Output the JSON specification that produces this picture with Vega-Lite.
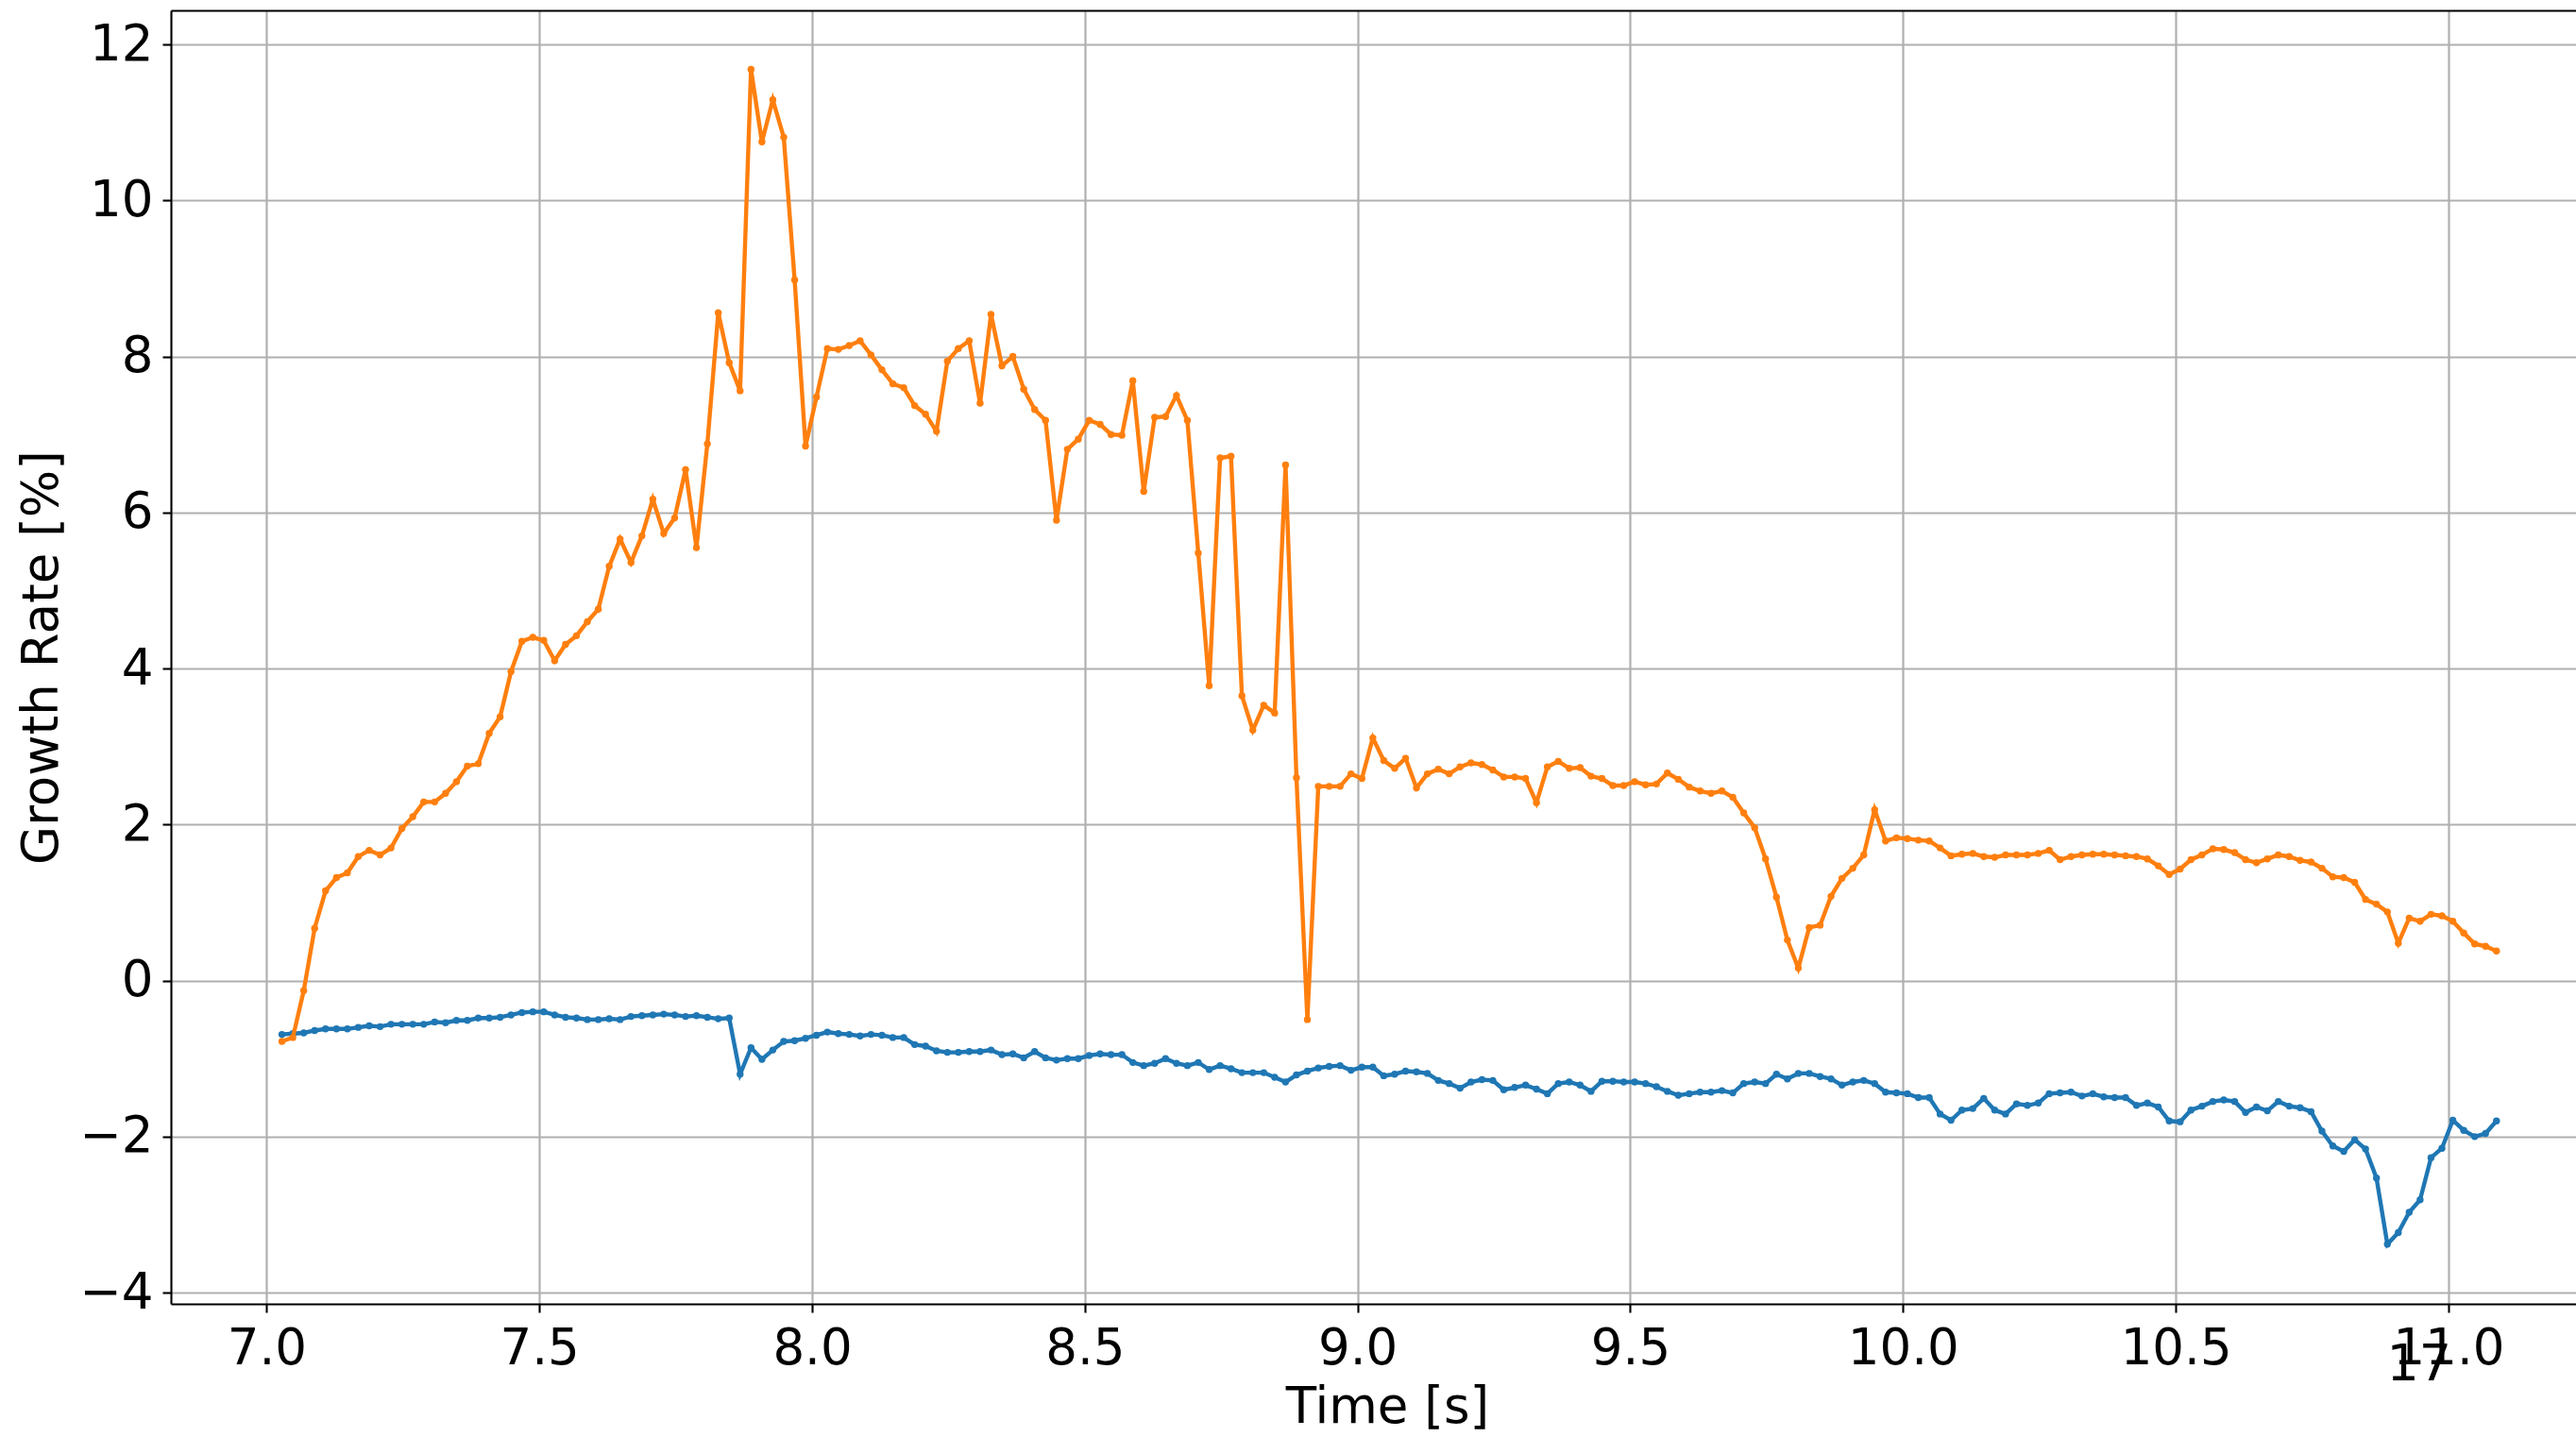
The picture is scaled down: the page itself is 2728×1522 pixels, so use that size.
{
  "$schema": "https://vega.github.io/schema/vega-lite/v6.json",
  "autosize": "none",
  "width": 2547,
  "height": 1370,
  "padding": {"left": 181, "top": 11, "right": 0, "bottom": 141},
  "background": "white",
  "datasets": {
    "growth": [
      {"t":7.028,"blue":-0.69,"orange":-0.78},{"t":7.048,"blue":-0.68,"orange":-0.73},{"t":7.068,"blue":-0.67,"orange":-0.13},{"t":7.088,"blue":-0.64,"orange":0.67},
      {"t":7.108,"blue":-0.62,"orange":1.15},{"t":7.128,"blue":-0.62,"orange":1.32},{"t":7.148,"blue":-0.62,"orange":1.38},{"t":7.168,"blue":-0.60,"orange":1.59},
      {"t":7.188,"blue":-0.58,"orange":1.67},{"t":7.208,"blue":-0.59,"orange":1.61},{"t":7.228,"blue":-0.56,"orange":1.70},{"t":7.248,"blue":-0.56,"orange":1.95},
      {"t":7.268,"blue":-0.56,"orange":2.10},{"t":7.288,"blue":-0.56,"orange":2.29},{"t":7.308,"blue":-0.53,"orange":2.29},{"t":7.328,"blue":-0.54,"orange":2.40},
      {"t":7.348,"blue":-0.51,"orange":2.55},{"t":7.368,"blue":-0.51,"orange":2.75},{"t":7.388,"blue":-0.48,"orange":2.78},{"t":7.408,"blue":-0.48,"orange":3.17},
      {"t":7.428,"blue":-0.47,"orange":3.38},{"t":7.448,"blue":-0.44,"orange":3.96},{"t":7.468,"blue":-0.41,"orange":4.35},{"t":7.488,"blue":-0.40,"orange":4.40},
      {"t":7.508,"blue":-0.40,"orange":4.36},{"t":7.528,"blue":-0.44,"orange":4.10},{"t":7.548,"blue":-0.47,"orange":4.31},{"t":7.568,"blue":-0.48,"orange":4.42},
      {"t":7.588,"blue":-0.50,"orange":4.60},{"t":7.608,"blue":-0.50,"orange":4.76},{"t":7.628,"blue":-0.49,"orange":5.31},{"t":7.648,"blue":-0.50,"orange":5.66},
      {"t":7.668,"blue":-0.46,"orange":5.36},{"t":7.688,"blue":-0.45,"orange":5.70},{"t":7.708,"blue":-0.44,"orange":6.17},{"t":7.728,"blue":-0.43,"orange":5.73},
      {"t":7.748,"blue":-0.44,"orange":5.93},{"t":7.768,"blue":-0.46,"orange":6.55},{"t":7.788,"blue":-0.45,"orange":5.55},{"t":7.808,"blue":-0.47,"orange":6.88},
      {"t":7.828,"blue":-0.49,"orange":8.56},{"t":7.848,"blue":-0.48,"orange":7.92},{"t":7.868,"blue":-1.20,"orange":7.56},{"t":7.888,"blue":-0.86,"orange":11.68},
      {"t":7.908,"blue":-1.01,"orange":10.75},{"t":7.928,"blue":-0.89,"orange":11.29},{"t":7.948,"blue":-0.78,"orange":10.81},{"t":7.968,"blue":-0.77,"orange":8.98},
      {"t":7.988,"blue":-0.74,"orange":6.85},{"t":8.008,"blue":-0.70,"orange":7.48},{"t":8.028,"blue":-0.66,"orange":8.10},{"t":8.048,"blue":-0.68,"orange":8.09},
      {"t":8.068,"blue":-0.69,"orange":8.14},{"t":8.088,"blue":-0.71,"orange":8.20},{"t":8.108,"blue":-0.69,"orange":8.02},{"t":8.128,"blue":-0.70,"orange":7.83},
      {"t":8.148,"blue":-0.73,"orange":7.65},{"t":8.168,"blue":-0.73,"orange":7.60},{"t":8.188,"blue":-0.82,"orange":7.37},{"t":8.208,"blue":-0.84,"orange":7.26},
      {"t":8.228,"blue":-0.90,"orange":7.04},{"t":8.248,"blue":-0.92,"orange":7.94},{"t":8.268,"blue":-0.92,"orange":8.10},{"t":8.288,"blue":-0.91,"orange":8.20},
      {"t":8.308,"blue":-0.91,"orange":7.40},{"t":8.328,"blue":-0.89,"orange":8.54},{"t":8.348,"blue":-0.95,"orange":7.88},{"t":8.368,"blue":-0.94,"orange":8.00},
      {"t":8.388,"blue":-0.99,"orange":7.58},{"t":8.408,"blue":-0.91,"orange":7.32},{"t":8.428,"blue":-0.99,"orange":7.18},{"t":8.448,"blue":-1.02,"orange":5.90},
      {"t":8.468,"blue":-1.00,"orange":6.81},{"t":8.488,"blue":-1.00,"orange":6.94},{"t":8.508,"blue":-0.96,"orange":7.18},{"t":8.528,"blue":-0.94,"orange":7.13},
      {"t":8.548,"blue":-0.95,"orange":7.00},{"t":8.568,"blue":-0.95,"orange":6.99},{"t":8.588,"blue":-1.05,"orange":7.69},{"t":8.608,"blue":-1.09,"orange":6.27},
      {"t":8.628,"blue":-1.06,"orange":7.22},{"t":8.648,"blue":-1.00,"orange":7.23},{"t":8.668,"blue":-1.06,"orange":7.50},{"t":8.688,"blue":-1.09,"orange":7.18},
      {"t":8.708,"blue":-1.05,"orange":5.48},{"t":8.728,"blue":-1.14,"orange":3.78},{"t":8.748,"blue":-1.09,"orange":6.70},{"t":8.768,"blue":-1.13,"orange":6.72},
      {"t":8.788,"blue":-1.18,"orange":3.65},{"t":8.808,"blue":-1.18,"orange":3.21},{"t":8.828,"blue":-1.18,"orange":3.53},{"t":8.848,"blue":-1.24,"orange":3.43},
      {"t":8.868,"blue":-1.30,"orange":6.61},{"t":8.888,"blue":-1.21,"orange":2.60},{"t":8.908,"blue":-1.16,"orange":-0.50},{"t":8.928,"blue":-1.12,"orange":2.49},
      {"t":8.948,"blue":-1.10,"orange":2.49},{"t":8.968,"blue":-1.09,"orange":2.49},{"t":8.988,"blue":-1.15,"orange":2.65},{"t":9.008,"blue":-1.11,"orange":2.59},
      {"t":9.028,"blue":-1.11,"orange":3.11},{"t":9.048,"blue":-1.22,"orange":2.82},{"t":9.068,"blue":-1.20,"orange":2.72},{"t":9.088,"blue":-1.16,"orange":2.85},
      {"t":9.108,"blue":-1.17,"orange":2.47},{"t":9.128,"blue":-1.19,"orange":2.65},{"t":9.148,"blue":-1.28,"orange":2.71},{"t":9.168,"blue":-1.32,"orange":2.65},
      {"t":9.188,"blue":-1.38,"orange":2.74},{"t":9.208,"blue":-1.30,"orange":2.79},{"t":9.228,"blue":-1.27,"orange":2.77},{"t":9.248,"blue":-1.28,"orange":2.70},
      {"t":9.268,"blue":-1.40,"orange":2.61},{"t":9.288,"blue":-1.37,"orange":2.61},{"t":9.308,"blue":-1.34,"orange":2.59},{"t":9.328,"blue":-1.39,"orange":2.28},
      {"t":9.348,"blue":-1.45,"orange":2.74},{"t":9.368,"blue":-1.32,"orange":2.81},{"t":9.388,"blue":-1.30,"orange":2.72},{"t":9.408,"blue":-1.34,"orange":2.73},
      {"t":9.428,"blue":-1.42,"orange":2.62},{"t":9.448,"blue":-1.29,"orange":2.59},{"t":9.468,"blue":-1.29,"orange":2.50},{"t":9.488,"blue":-1.30,"orange":2.50},
      {"t":9.508,"blue":-1.30,"orange":2.55},{"t":9.528,"blue":-1.32,"orange":2.51},{"t":9.548,"blue":-1.36,"orange":2.52},{"t":9.568,"blue":-1.42,"orange":2.66},
      {"t":9.588,"blue":-1.47,"orange":2.58},{"t":9.608,"blue":-1.45,"orange":2.48},{"t":9.628,"blue":-1.43,"orange":2.43},{"t":9.648,"blue":-1.43,"orange":2.40},
      {"t":9.668,"blue":-1.41,"orange":2.43},{"t":9.688,"blue":-1.44,"orange":2.35},{"t":9.708,"blue":-1.32,"orange":2.15},{"t":9.728,"blue":-1.30,"orange":1.96},
      {"t":9.748,"blue":-1.32,"orange":1.56},{"t":9.768,"blue":-1.20,"orange":1.07},{"t":9.788,"blue":-1.26,"orange":0.52},{"t":9.808,"blue":-1.19,"orange":0.16},
      {"t":9.828,"blue":-1.19,"orange":0.68},{"t":9.848,"blue":-1.23,"orange":0.71},{"t":9.868,"blue":-1.26,"orange":1.08},{"t":9.888,"blue":-1.34,"orange":1.31},
      {"t":9.908,"blue":-1.30,"orange":1.44},{"t":9.928,"blue":-1.28,"orange":1.61},{"t":9.948,"blue":-1.32,"orange":2.19},{"t":9.968,"blue":-1.43,"orange":1.79},
      {"t":9.988,"blue":-1.44,"orange":1.83},{"t":10.008,"blue":-1.45,"orange":1.82},{"t":10.028,"blue":-1.50,"orange":1.80},{"t":10.048,"blue":-1.50,"orange":1.79},
      {"t":10.068,"blue":-1.71,"orange":1.70},{"t":10.088,"blue":-1.79,"orange":1.60},{"t":10.108,"blue":-1.66,"orange":1.62},{"t":10.128,"blue":-1.64,"orange":1.63},
      {"t":10.148,"blue":-1.51,"orange":1.59},{"t":10.168,"blue":-1.66,"orange":1.58},{"t":10.188,"blue":-1.71,"orange":1.61},{"t":10.208,"blue":-1.58,"orange":1.61},
      {"t":10.228,"blue":-1.60,"orange":1.61},{"t":10.248,"blue":-1.57,"orange":1.63},{"t":10.268,"blue":-1.45,"orange":1.67},{"t":10.288,"blue":-1.44,"orange":1.55},
      {"t":10.308,"blue":-1.43,"orange":1.59},{"t":10.328,"blue":-1.48,"orange":1.61},{"t":10.348,"blue":-1.45,"orange":1.62},{"t":10.368,"blue":-1.49,"orange":1.62},
      {"t":10.388,"blue":-1.50,"orange":1.61},{"t":10.408,"blue":-1.50,"orange":1.60},{"t":10.428,"blue":-1.60,"orange":1.59},{"t":10.448,"blue":-1.57,"orange":1.56},
      {"t":10.468,"blue":-1.62,"orange":1.47},{"t":10.488,"blue":-1.80,"orange":1.36},{"t":10.508,"blue":-1.81,"orange":1.43},{"t":10.528,"blue":-1.66,"orange":1.55},
      {"t":10.548,"blue":-1.61,"orange":1.61},{"t":10.568,"blue":-1.55,"orange":1.69},{"t":10.588,"blue":-1.53,"orange":1.68},{"t":10.608,"blue":-1.55,"orange":1.64},
      {"t":10.628,"blue":-1.69,"orange":1.55},{"t":10.648,"blue":-1.62,"orange":1.51},{"t":10.668,"blue":-1.67,"orange":1.56},{"t":10.688,"blue":-1.55,"orange":1.61},
      {"t":10.708,"blue":-1.61,"orange":1.59},{"t":10.728,"blue":-1.63,"orange":1.54},{"t":10.748,"blue":-1.68,"orange":1.52},{"t":10.768,"blue":-1.93,"orange":1.44},
      {"t":10.788,"blue":-2.12,"orange":1.33},{"t":10.808,"blue":-2.19,"orange":1.32},{"t":10.828,"blue":-2.04,"orange":1.26},{"t":10.848,"blue":-2.16,"orange":1.04},
      {"t":10.868,"blue":-2.53,"orange":0.98},{"t":10.888,"blue":-3.38,"orange":0.88},{"t":10.908,"blue":-3.23,"orange":0.48},{"t":10.928,"blue":-2.97,"orange":0.80},
      {"t":10.948,"blue":-2.81,"orange":0.76},{"t":10.968,"blue":-2.27,"orange":0.85},{"t":10.988,"blue":-2.15,"orange":0.83},{"t":11.008,"blue":-1.79,"orange":0.76},
      {"t":11.028,"blue":-1.92,"orange":0.61},{"t":11.048,"blue":-2.00,"orange":0.47},{"t":11.068,"blue":-1.96,"orange":0.44},{"t":11.088,"blue":-1.80,"orange":0.38}
    ]
  },
  "layer": [
    {
      "data": {"name": "growth"},
      "mark": {"type": "line", "color": "#1f77b4", "strokeWidth": 4.4, "point": {"filled": true, "size": 55, "color": "#1f77b4"}},
      "encoding": {
        "x": {
          "field": "t", "type": "quantitative",
          "scale": {"domain": [6.8245, 11.2338], "nice": false, "zero": false},
          "axis": {
            "orient": "bottom", "values": [7, 7.5, 8, 8.5, 9, 9.5, 10, 10.5, 11], "format": ".1f",
            "title": "Time [s]", "labelPadding": 12, "grid": true,
            "titleX": 1288, "titleY": 125, "titleBaseline": "alphabetic", "titleAlign": "center", "titleAnchor": null
          }
        },
        "y": {
          "field": "blue", "type": "quantitative",
          "scale": {"domain": [-4.144, 12.436], "nice": false, "zero": false},
          "axis": {
            "orient": "left", "values": [-4, -2, 0, 2, 4, 6, 8, 10, 12], "format": "d",
            "title": "Growth Rate [%]", "labelPadding": 10, "grid": true,
            "titleX": -121, "titleY": 685, "titleAngle": -90, "titleBaseline": "alphabetic", "titleAlign": "center", "titleAnchor": null
          }
        }
      }
    },
    {
      "data": {"name": "growth"},
      "mark": {"type": "line", "color": "#ff7f0e", "strokeWidth": 4.4, "point": {"filled": true, "size": 55, "color": "#ff7f0e"}},
      "encoding": {
        "x": {
          "field": "t", "type": "quantitative",
          "scale": {"domain": [6.8245, 11.2338], "nice": false, "zero": false},
          "axis": {"orient": "top", "labels": false, "ticks": false, "grid": false, "domain": true, "title": null}
        },
        "y": {
          "field": "orange", "type": "quantitative",
          "scale": {"domain": [-4.144, 12.436], "nice": false, "zero": false},
          "axis": {
            "orient": "left", "values": [-4, -2, 0, 2, 4, 6, 8, 10, 12], "format": "d",
            "title": "Growth Rate [%]", "labelPadding": 10, "grid": true,
            "titleX": -121, "titleY": 685, "titleAngle": -90, "titleBaseline": "alphabetic", "titleAlign": "center", "titleAnchor": null
          }
        }
      }
    },
    {
      "data": {"values": [{"t": 10.946, "v": -5.124, "label": "17"}]},
      "mark": {"type": "text", "fontSize": 54, "font": "DejaVu Sans", "color": "#000", "align": "center", "baseline": "alphabetic", "clip": false},
      "encoding": {
        "x": {"field": "t", "type": "quantitative", "axis": null},
        "y": {
          "field": "v", "type": "quantitative",
          "axis": {
            "orient": "left", "values": [-4, -2, 0, 2, 4, 6, 8, 10, 12], "format": "d",
            "title": "Growth Rate [%]", "labelPadding": 10, "grid": true,
            "titleX": -121, "titleY": 685, "titleAngle": -90, "titleBaseline": "alphabetic", "titleAlign": "center", "titleAnchor": null
          }
        },
        "text": {"field": "label"}
      }
    }
  ],
  "resolve": {"axis": {"x": "independent"}},
  "config": {
    "font": "DejaVu Sans",
    "view": {"stroke": null},
    "axis": {
      "labelFont": "DejaVu Sans", "labelFontSize": 53, "labelColor": "#000",
      "titleFont": "DejaVu Sans", "titleFontSize": 53, "titleFontWeight": "normal", "titleColor": "#000",
      "domainColor": "#000", "domainWidth": 2.1,
      "tickColor": "#000", "tickWidth": 2.1, "tickSize": 9,
      "gridColor": "#b0b0b0", "gridWidth": 2.2, "gridOpacity": 1,
      "labelFlush": false, "labelOverlap": false, "labelBound": false
    }
  }
}
